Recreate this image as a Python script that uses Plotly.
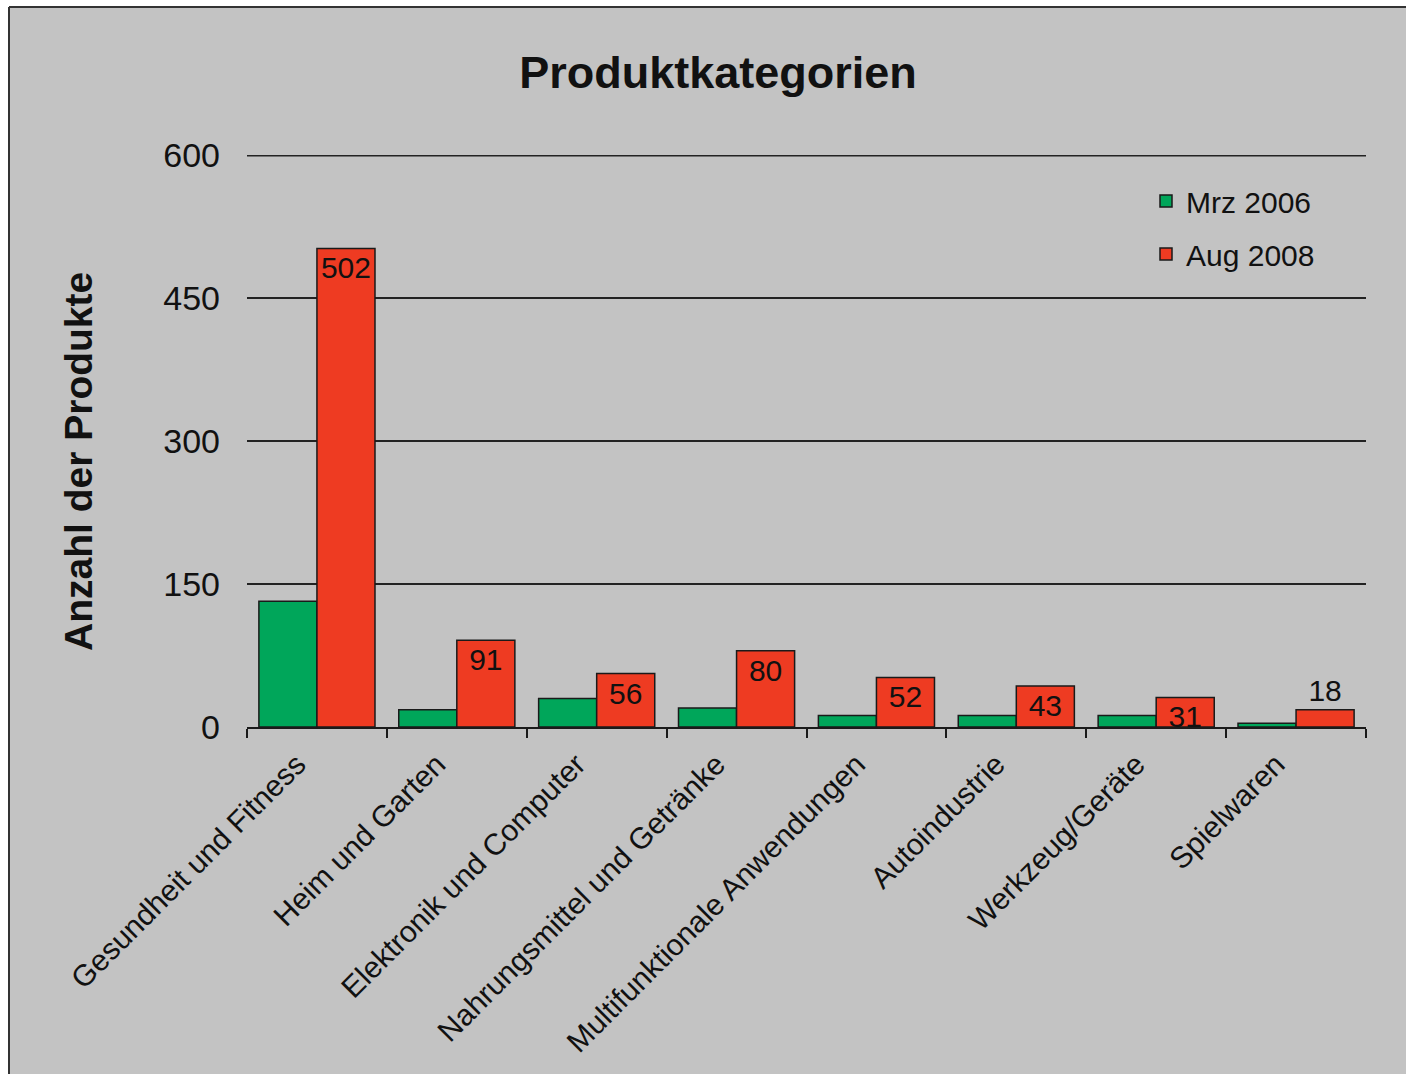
import plotly.graph_objects as go

categories = [
    "Gesundheit und Fitness",
    "Heim und Garten",
    "Elektronik und Computer",
    "Nahrungsmittel und Getränke",
    "Multifunktionale Anwendungen",
    "Autoindustrie",
    "Werkzeug/Geräte",
    "Spielwaren",
]
mrz_2006 = [132, 18, 30, 20, 12, 12, 12, 4]
aug_2008 = [502, 91, 56, 80, 52, 43, 31, 18]
y_ticks = [0, 150, 300, 450, 600]

series_names = ["Mrz 2006", "Aug 2008"]
label_pos = ["inside"] * 7 + ["outside"]

W, H = 1406, 1074
L, R, T, B = 247, 40, 155, 347
PW = W - L - R
PH = H - T - B


def px(x):
    return (x - L) / PW


def py(y):
    return (H - B - y) / PH


FONT = "Liberation Sans, Arial, sans-serif"
GREEN = "#00A65A"
RED = "#EE3B22"
EDGE = "#1a1a1a"
BG = "#C3C3C3"

fig = go.Figure()
fig.add_trace(go.Bar(
    x=categories, y=mrz_2006, name=series_names[0],
    marker=dict(color=GREEN, line=dict(color=EDGE, width=1.5)),
    legendgroup="a",
))
fig.add_trace(go.Bar(
    x=categories, y=aug_2008, name=series_names[1],
    marker=dict(color=RED, line=dict(color=EDGE, width=1.5)),
    text=aug_2008, texttemplate="%{text}",
    textposition=label_pos, insidetextanchor="end",
    constraintext="none", cliponaxis=False,
    textfont=dict(family=FONT, size=30, color="#111111"),
    legendgroup="b",
))

shapes = [
    # white outside frame
    dict(type="rect", xref="paper", yref="paper", x0=px(0), x1=px(9), y0=py(H), y1=py(0),
         fillcolor="white", line=dict(width=0), layer="below"),
    dict(type="rect", xref="paper", yref="paper", x0=px(0), x1=px(W), y0=py(7), y1=py(0),
         fillcolor="white", line=dict(width=0), layer="below"),
    dict(type="line", xref="paper", yref="paper", x0=px(9), x1=px(W), y0=py(7), y1=py(7),
         line=dict(color="#333333", width=2)),
    dict(type="line", xref="paper", yref="paper", x0=px(9), x1=px(9), y0=py(7), y1=py(H),
         line=dict(color="#333333", width=2)),
    # top gridline (hidden by plotly at the range edge; half clipped, so doubled width)
    dict(type="line", xref="paper", yref="y", x0=0, x1=1, y0=y_ticks[-1], y1=y_ticks[-1],
         line=dict(color="#222222", width=3), layer="below"),
]

fig.update_layout(
    width=W, height=H,
    margin=dict(l=L, r=R, t=T, b=B, autoexpand=False),
    paper_bgcolor=BG, plot_bgcolor=BG,
    font=dict(family=FONT, color="#111111"),
    barmode="group", bargap=0.17, bargroupgap=0,
    title=dict(text="<b>Produktkategorien</b>", x=718 / W, xref="container", xanchor="center",
               y=1 - 72 / H, yref="container", yanchor="middle",
               font=dict(family=FONT, size=45, color="#111111")),
    showlegend=True,
    legend=dict(x=px(1146), y=py(175), xanchor="left", yanchor="top",
                bgcolor="rgba(0,0,0,0)", borderwidth=0, tracegroupgap=11,
                font=dict(family=FONT, size=30, color="#111111"), traceorder="grouped"),
    shapes=shapes,
    annotations=[dict(text="<b>Anzahl der Produkte</b>", textangle=-90,
                      xref="paper", yref="paper", x=px(78), y=py(462),
                      xanchor="center", yanchor="middle", showarrow=False,
                      font=dict(family=FONT, size=39, color="#111111"))],
)
fig.update_xaxes(
    type="category", tickangle=-45, tickson="boundaries",
    ticks="outside", ticklen=9, tickwidth=1.5, tickcolor=EDGE,
    showline=True, linecolor=EDGE, linewidth=1.5,
    tickfont=dict(family=FONT, size=30, color="#111111"),
    ticklabelshift=-20, ticklabelstandoff=6,
    showgrid=False,
)
fig.update_yaxes(
    range=[0, 600], tickvals=y_ticks, ticktext=[str(v) for v in y_ticks],
    showgrid=True, gridcolor="#222222", gridwidth=1.5,
    zeroline=False, showline=False, ticks="", ticklabelstandoff=26,
    tickfont=dict(family=FONT, size=34, color="#111111"),
)

fig.write_html(
    "out.html",
    config={"displayModeBar": False},
    post_script="document.body.style.margin='0';document.body.style.overflow='hidden';",
)
